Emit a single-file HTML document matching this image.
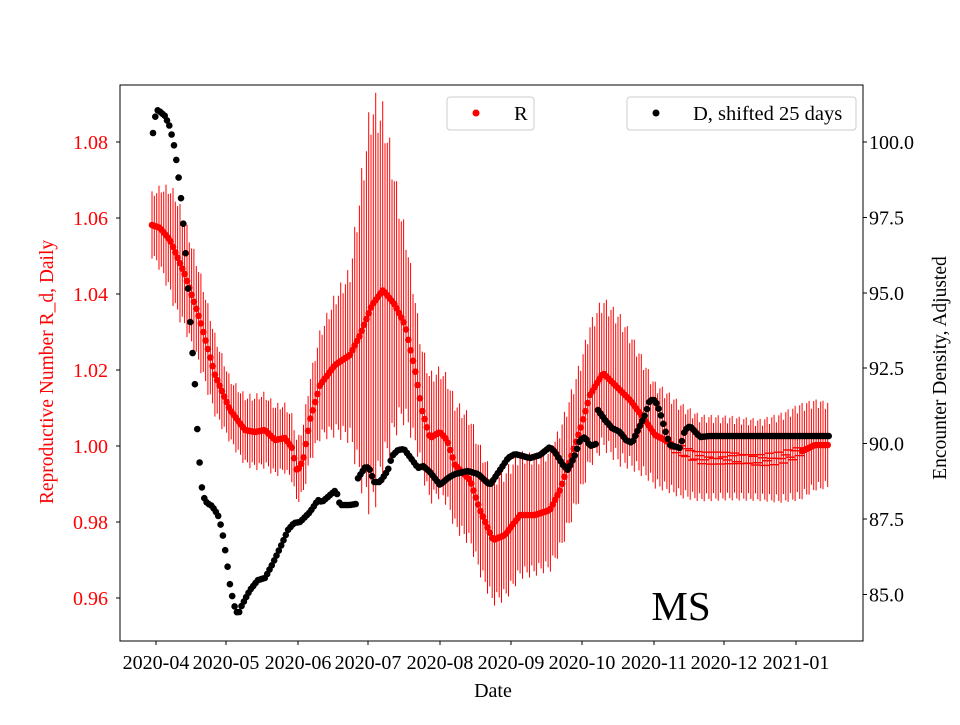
<!DOCTYPE html>
<html><head><meta charset="utf-8"><style>
body{margin:0;background:#fff}
svg text{font-family:"Liberation Serif",serif}
</style></head><body>
<svg id="s" width="960" height="720" xmlns="http://www.w3.org/2000/svg">
<rect width="960" height="720" fill="#fff"/>
<g id="eb" stroke="#ff0000" stroke-width="1"></g>
<g id="rp" fill="#ff0000"></g>
<g id="dp" fill="#000"></g>
<rect x="120" y="85" width="743" height="556" fill="none" stroke="#000" stroke-width="1"/>
<g id="ax" font-size="20"></g>
<text x="681" y="620" font-size="41" text-anchor="middle" font-family="Liberation Serif">MS</text>
<text x="493" y="697" font-size="20" text-anchor="middle">Date</text>
<text transform="translate(53,372) rotate(-90)" font-size="19.5" text-anchor="middle" fill="#ff0000">Reproductive Number R_d, Daily</text>
<text transform="translate(946,368) rotate(-90)" font-size="19.5" text-anchor="middle">Encounter Density, Adjusted</text>
<rect x="447" y="97" width="87" height="33" rx="3" fill="#fff" fill-opacity="0.8" stroke="#ccc"/>
<circle cx="476" cy="113" r="3.5" fill="#ff0000"/>
<text x="514" y="120" font-size="20.5">R</text>
<rect x="627" y="97" width="229" height="33" rx="3" fill="#fff" fill-opacity="0.8" stroke="#ccc"/>
<circle cx="656" cy="113" r="3.5" fill="#000"/>
<text x="693" y="120" font-size="20.5">D, shifted 25 days</text>
</svg>
<script>
const NS="http://www.w3.org/2000/svg";
function el(p,t,a,txt){const e=document.createElementNS(NS,t);for(const k in a)e.setAttribute(k,a[k]);if(txt)e.textContent=txt;document.getElementById(p).appendChild(e);}
function interp(pts,x){if(x<=pts[0][0])return pts[0][1];for(let i=1;i<pts.length;i++){if(x<=pts[i][0]){const a=pts[i-1],b=pts[i];return a[1]+(b[1]-a[1])*(x-a[0])/(b[0]-a[0]);}}return pts[pts.length-1][1];}
const L=[[1.08,142],[1.06,218],[1.04,294],[1.02,370],[1.00,446],[0.98,522],[0.96,598]];
L.forEach(([v,y])=>{el("ax","line",{x1:116,x2:120,y1:y,y2:y,stroke:"#000"});el("ax","text",{x:108,y:y+7,"text-anchor":"end",fill:"#ff0000"},v.toFixed(2));});
const R=[["100.0",142],["97.5",217.5],["95.0",293],["92.5",368],["90.0",443.5],["87.5",519],["85.0",594.5]];
R.forEach(([v,y])=>{el("ax","line",{x1:863,x2:867,y1:y,y2:y,stroke:"#000"});el("ax","text",{x:869,y:y+7},v);});
const X=[["2020-04",156],["2020-05",226],["2020-06",298],["2020-07",368],["2020-08",440],["2020-09",511],["2020-10",582],["2020-11",654],["2020-12",724],["2021-01",796]];
X.forEach(([v,x])=>{el("ax","line",{x1:x,x2:x,y1:641,y2:645,stroke:"#000"});el("ax","text",{x:x,y:669,"text-anchor":"middle"},v);});
const rk=[[152,225],[160,228],[170,240],[185,275],[200,320],[215,375],[230,410],[245,430],[255,432],[265,430],[275,440],[285,438],[292,448],[297,472],[303,460],[310,420],[320,385],[335,365],[350,355],[360,335],[372,305],[383,290],[395,305],[405,325],[415,370],[422,410],[430,438],[440,432],[447,440],[455,465],[470,480],[480,510],[493,540],[505,535],[520,515],[535,515],[550,510],[560,490],[570,460],[580,430],[590,395],[603,373],[615,385],[630,400],[645,420],[655,435],[665,440],[680,450],[700,458],[730,458],[760,460],[780,458],[800,452],[815,445],[830,445]];
const hk=[[152,30],[175,55],[200,45],[230,30],[260,35],[300,30],[330,60],[350,80],[365,165],[372,195],[385,165],[400,100],[420,60],[440,60],[460,60],[490,60],[510,60],[540,55],[570,60],[600,70],[620,70],[650,50],[700,40],[760,38],[800,45],[830,40]];
const dk=[[153,133],[156,112],[158,110],[165,116],[170,127],[175,150],[180,188],[183,220],[186,258],[189,305],[192,345],[195,385],[197,425],[199,455],[201,480],[203,496],[207,503],[212,506],[218,515],[222,530],[226,555],[230,585],[234,605],[238,615],[242,605],[250,590],[258,580],[265,578],[272,565],[280,548],[288,530],[294,523],[300,522],[310,512],[318,500],[322,502],[330,495],[336,490],[340,505],[350,505],[356,504],[357,480],[362,472],[366,466],[370,470],[374,482],[380,482],[388,470],[392,456],[398,450],[404,449],[410,457],[418,468],[423,466],[430,472],[440,485],[448,478],[455,474],[468,471],[478,474],[490,485],[500,470],[508,458],[515,454],[530,458],[540,455],[550,447],[555,452],[563,465],[568,470],[575,455],[580,440],[585,437],[590,446],[596,444],[598,410],[605,420],[612,428],[620,432],[626,440],[632,443],[638,430],[645,415],[650,400],[655,400],[660,412],[665,430],[670,445],[680,448],[685,430],[690,426],[700,437],[710,436],[830,436]];
const st=2.33;
for(let x=152;x<=830;x+=st){
 const y=interp(rk,x),h=interp(hk,x);
 const wob=Math.sin(x*0.9)*h*0.12;
 el("eb","line",{x1:x.toFixed(1),x2:x.toFixed(1),y1:(y-h+wob).toFixed(1),y2:(y+h-wob).toFixed(1)});
 if(x>672&&x<800){el("rp","rect",{x:(x-5).toFixed(1),y:(y+Math.sin(x*0.7)*6-0.6).toFixed(1),width:10,height:1.4});}
 else el("rp","circle",{cx:x.toFixed(1),cy:y.toFixed(1),r:3.3});
}
for(let x=153;x<=830;x+=st){el("dp","circle",{cx:x.toFixed(1),cy:interp(dk,x).toFixed(1),r:3.3});}
</script>
</body></html>
